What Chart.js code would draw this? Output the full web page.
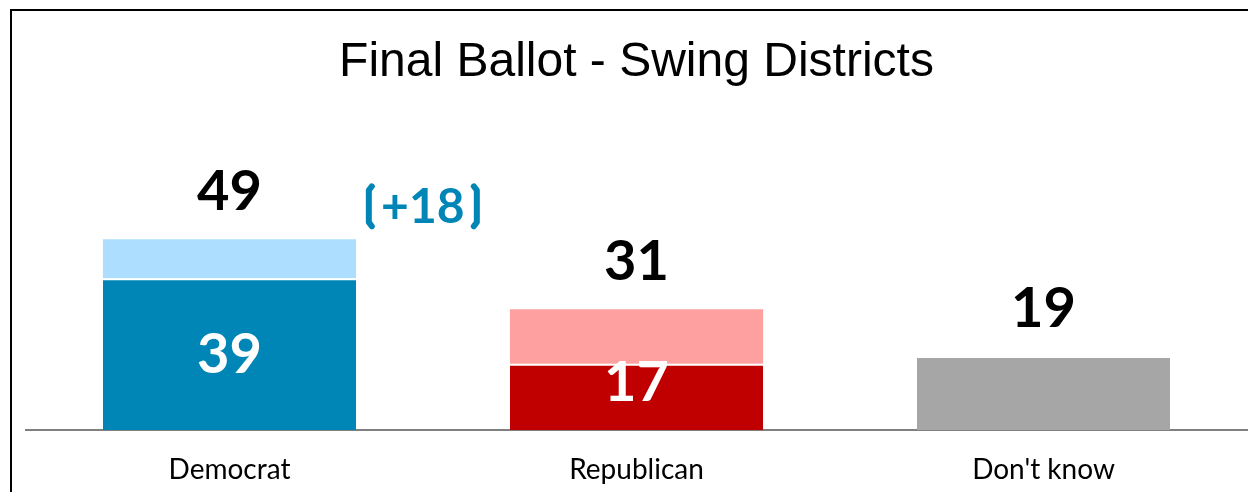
<!DOCTYPE html>
<html>
<head>
<meta charset="utf-8">
<script src="https://cdn.jsdelivr.net/npm/chart.js@4.4.1/dist/chart.umd.min.js"></script>
<style>
  html, body { margin: 0; padding: 0; background: #fff; }
  #wrap { position: relative; width: 1248px; height: 492px; overflow: hidden; }
  #frame { position: absolute; left: 10px; top: 9px; width: 1240px; height: 500px;
           border-left: 2px solid #000; border-top: 2px solid #000; box-sizing: border-box; pointer-events: none; }
  canvas { position: absolute; left: 0; top: 0; }
</style>
</head>
<body>
<div id="wrap">
  <canvas id="c" width="1248" height="492"></canvas>
  <div id="frame"></div>
</div>
<script>
const categories = ["Democrat", "Republican", "Don't know"];
const baseValues = [39, 17, 19];      // dark segment
const leanValues = [10, 14, 0];       // light segment on top
const totalValues = [49, 31, 19];     // label above bar
const marginLabel = "+18";
const titleText = "Final Ballot - Swing Districts";

const darkColors = ["#0086B6", "#C00000", "#A6A6A6"];
const lightColors = ["#ADDEFF", "#FFA0A0", "#A6A6A6"];

const labelPlugin = {
  id: 'labels',
  afterDatasetsDraw(chart) {
    const ctx = chart.ctx;
    const x = chart.scales.x, y = chart.scales.y;
    const zero = y.getPixelForValue(0);
    ctx.save();
    ctx.textAlign = 'center';
    ctx.textBaseline = 'middle';
    ctx.font = 'bold 56px Lato';
    ctx.fillStyle = '#fff';
    categories.forEach((c, i) => {
      if (!leanValues[i]) return;
      const cx = x.getPixelForValue(i);
      const segC = (y.getPixelForValue(baseValues[i]) + zero) / 2;
      const cy = Math.min(segC, zero - 48);
      ctx.fillText(String(baseValues[i]), cx, cy + 1);
    });
    ctx.fillStyle = '#000';
    categories.forEach((c, i) => {
      const cx = x.getPixelForValue(i);
      const top = y.getPixelForValue(totalValues[i]);
      ctx.fillText(String(totalValues[i]), cx, top - 47);
    });
    const mx = x.getPixelForValue(0.475);
    const my = y.getPixelForValue(58) + 2;
    ctx.fillStyle = '#0086B6';
    ctx.font = 'bold 48px Lato';
    ctx.fillText(marginLabel, mx, my + 1);
    ctx.strokeStyle = '#0086B6';
    ctx.lineWidth = 6;
    ctx.lineCap = 'round';
    ctx.lineJoin = 'round';
    const h = 20;
    const lx = mx - 54, rx = mx + 54;
    ctx.beginPath();
    ctx.moveTo(lx + 3, my - h); ctx.lineTo(lx, my - h + 4); ctx.lineTo(lx, my + h - 4); ctx.lineTo(lx + 3, my + h);
    ctx.moveTo(rx - 3, my - h); ctx.lineTo(rx, my - h + 4); ctx.lineTo(rx, my + h - 4); ctx.lineTo(rx - 3, my + h);
    ctx.stroke();
    ctx.restore();
  }
};

new Chart(document.getElementById('c'), {
  type: 'bar',
  data: {
    labels: categories,
    datasets: [
      { data: baseValues, backgroundColor: darkColors, borderColor: '#fff',
        borderWidth: { top: 2, left: 0, right: 0, bottom: 0 }, borderSkipped: false,
        categoryPercentage: 1, barPercentage: 0.622 },
      { data: leanValues, backgroundColor: lightColors, borderWidth: 0,
        categoryPercentage: 1, barPercentage: 0.622 }
    ]
  },
  options: {
    responsive: false,
    animation: false,
    layout: { padding: { left: 26, right: 1, top: 0, bottom: 0 } },
    plugins: {
      legend: { display: false },
      tooltip: { enabled: false },
      title: {
        display: true, text: titleText, color: '#000',
        font: { family: 'Liberation Sans', size: 48, weight: 'normal' },
        padding: { top: 34, bottom: 66 }
      }
    },
    scales: {
      x: {
        stacked: true,
        grid: { display: false, drawTicks: false },
        border: { display: true, color: '#808080', width: 2 },
        ticks: { color: '#000', font: { family: 'Lato', size: 28 }, padding: 23 },
        afterFit(s) { s.height = 62; }
      },
      y: {
        stacked: true, display: false, min: 0, max: 70
      }
    }
  },
  plugins: [labelPlugin]
});
</script>
</body>
</html>
